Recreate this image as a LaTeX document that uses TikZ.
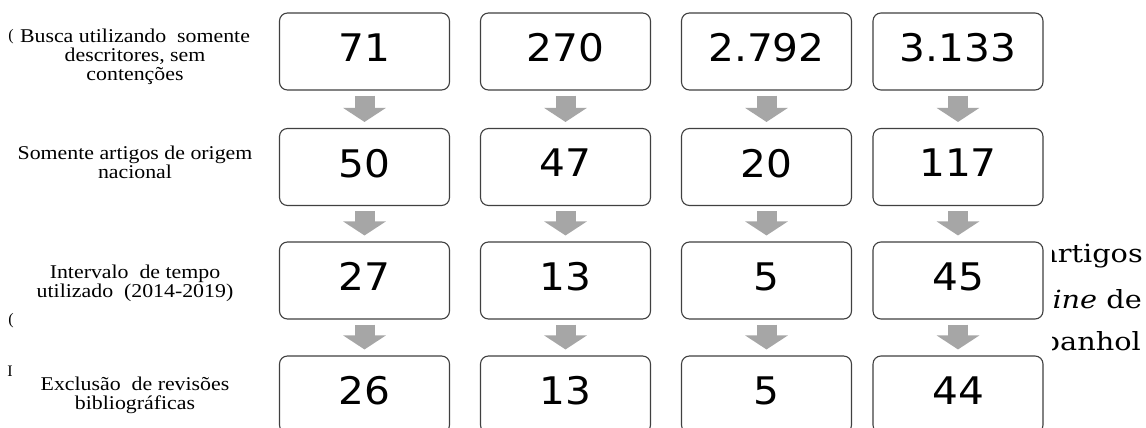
\documentclass[tikz,border=0pt]{standalone}
\usepackage{fontspec}
\usepackage{graphicx}
\setmainfont{Liberation Serif}
\newfontfamily\numfont{DejaVu Sans}
\newfontfamily\fragfont{DejaVu Serif}
\usetikzlibrary{arrows.meta,calc}
\definecolor{boxline}{HTML}{404040}
\definecolor{arrowgray}{HTML}{A6A6A6}
\newcommand{\hs}[1]{\scalebox{1.07}[1]{#1}}
\newcommand{\lbltext}[1]{\scalebox{1.12}[1]{\vbox{\baselineskip=19pt\lineskiplimit=-100pt\lineskip=0pt\def\\{\cr}\halign{\hfil##\hfil\cr#1\crcr}}}}
\tikzset{
  numbox/.style={draw=boxline, line width=1.1pt, rounded corners=8pt,
    minimum width=170pt, minimum height=77pt, inner sep=0pt, text depth=8pt,
    font=\numfont\fontsize{38}{40}\selectfont},
  flowarrow/.style={draw=arrowgray, line width=20pt,
    -{Triangle[width=42pt,length=14pt]}},
  lbl/.style={inner sep=0pt, font=\fontsize{19.5}{19}\selectfont},
  frag/.style={inner sep=0pt, anchor=base east, font=\fragfont\fontsize{25}{25}\selectfont},
  stray/.style={inner sep=0pt, anchor=base east, font=\fontsize{16}{16}\selectfont},
}
\begin{document}
\begin{tikzpicture}[x=1pt,y=-1pt]
\useasboundingbox (0,0) rectangle (1146,428);
\clip (0,0) rectangle (1146,428);
\fill[white] (0,0) rectangle (1146,428);

% boxes
\node[numbox] (a1) at (364.5,51.5) {\hs{71}};
\node[numbox] (b1) at (565.5,51.5) {\hs{270}};
\node[numbox] (c1) at (766.5,51.5) {\hs{2.792}};
\node[numbox] (d1) at (958,51.5) {\hs{3.133}};

\node[numbox] (a2) at (364.5,167) {\hs{50}};
\node[numbox] (b2) at (565.5,167) {\hs{47}};
\node[numbox] (c2) at (766.5,167) {\hs{20}};
\node[numbox] (d2) at (958,167) {\hs{117}};

\node[numbox] (a3) at (364.5,280.5) {\hs{27}};
\node[numbox] (b3) at (565.5,280.5) {\hs{13}};
\node[numbox] (c3) at (766.5,280.5) {\hs{5}};
\node[numbox] (d3) at (958,280.5) {\hs{45}};

\node[numbox] (a4) at (364.5,394.5) {\hs{26}};
\node[numbox] (b4) at (565.5,394.5) {\hs{13}};
\node[numbox] (c4) at (766.5,394.5) {\hs{5}};
\node[numbox] (d4) at (958,394.5) {\hs{44}};

% arrows
\foreach \col in {a,b,c,d}{
  \draw[flowarrow] ($(\col1.south)+(0,5)$) -- ($(\col2.north)+(0,-6)$);
  \draw[flowarrow] ($(\col2.south)+(0,5)$) -- ($(\col3.north)+(0,-6)$);
  \draw[flowarrow] ($(\col3.south)+(0,5)$) -- ($(\col4.north)+(0,-6)$);
}

% row labels
\node[lbl] (l1) at (135,57) {\lbltext{Busca utilizando\ \ somente\\descritores, sem\\contenções}};
\node[lbl] (l2) at (135,162) {\lbltext{Somente artigos de origem\\nacional}};
\node[lbl] (l3) at (135,283.5) {\lbltext{Intervalo\ \ de tempo\\utilizado\ \ (2014-2019)}};
\node[lbl] (l4) at (135,395) {\lbltext{Exclusão\ \ de revisões\\bibliográficas}};

% fragments of the surrounding page text
\begin{scope}
\clip (1052,0) rectangle (1146,428);
\node[frag] (f1) at (1143,262) {\scalebox{1.15}[1]{artigos}};
\node[frag] (f2) at (1142,308) {\scalebox{1.15}[1]{\textit{online} de}};
\node[frag] (f3) at (1141,350) {\scalebox{1.15}[1]{espanhol}};
\end{scope}
\begin{scope}
\clip (0,0) rectangle (13,428);
\node[stray] (g1) at (14,41) {(};
\node[stray] (g2) at (14,324) {(};
\node[stray] (g3) at (13,376) {I};
\end{scope}
\end{tikzpicture}
\end{document}
